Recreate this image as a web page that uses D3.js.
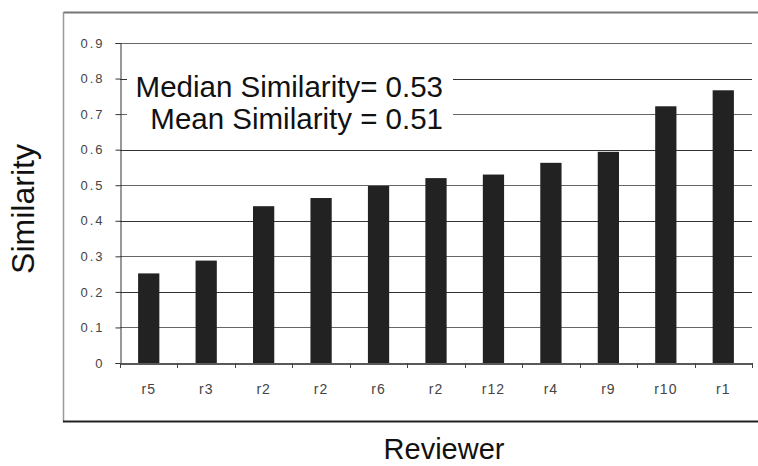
<!DOCTYPE html>
<html><head><meta charset="utf-8">
<script src="https://cdn.jsdelivr.net/npm/d3@7"></script>
<style>body{margin:0;background:#fff}svg{display:block}text{font-family:"Liberation Sans",Arial,sans-serif}</style>
</head><body>
<svg id="c" width="758" height="466"></svg>
<script>
const categories = ["r5","r3","r2","r2","r6","r2","r12","r4","r9","r10","r1"];
const similarity = [0.252,0.288,0.441,0.464,0.498,0.520,0.530,0.563,0.594,0.722,0.767];
const yTicks = [0,0.1,0.2,0.3,0.4,0.5,0.6,0.7,0.8,0.9];
const noteLines = ["Median Similarity= 0.53","Mean Similarity = 0.51"];

const svg = d3.select("#c");
const m = {l:120, r:752, t:43, b:363};
const x = d3.scaleBand().domain(d3.range(categories.length)).range([m.l,m.r]).paddingInner(0.63).paddingOuter(0.315);
const xb = d3.scaleBand().domain(d3.range(categories.length)).range([m.l,m.r]);
const y = d3.scaleLinear().domain([0,0.9]).range([m.b,m.t]);

// outer frame
svg.append("line").attr("x1",63.5).attr("x2",758).attr("y1",12.5).attr("y2",12.5).attr("stroke","#777").attr("stroke-width",2);
svg.append("line").attr("x1",63.5).attr("x2",63.5).attr("y1",12).attr("y2",422).attr("stroke","#999").attr("stroke-width",1.5);
svg.append("line").attr("x1",63).attr("x2",758).attr("y1",421.5).attr("y2",421.5).attr("stroke","#222").attr("stroke-width",2);

// gridlines
svg.append("g").selectAll("line").data(yTicks.filter(d=>d>0)).join("line")
  .attr("x1",m.l).attr("x2",m.r).attr("y1",d=>Math.round(y(d))+0.5).attr("y2",d=>Math.round(y(d))+0.5)
  .attr("stroke",(d,i)=> i%2? "#333":"#666").attr("stroke-width",1);

// y axis
const ya = svg.append("g").attr("transform",`translate(${m.l+0.5},0)`)
  .call(d3.axisLeft(y).tickValues(yTicks).tickSize(5).tickPadding(11).tickFormat(d=>d===0?"0":d3.format(".1f")(d)));
ya.select(".domain").attr("stroke","#333");
ya.selectAll(".tick line").attr("stroke","#333");
ya.selectAll(".tick text").attr("font-size",13).attr("fill","#444").attr("letter-spacing","2px")
  .attr("font-family","Liberation Sans, Arial, sans-serif");

// bars
svg.append("g").selectAll("rect").data(similarity).join("rect")
  .attr("x",(d,i)=>x(i)).attr("width",x.bandwidth())
  .attr("y",d=>y(d)).attr("height",d=>y(0)-y(d)).attr("fill","#222");

// x axis
const xa = svg.append("g").attr("transform",`translate(0,${m.b+0.5})`)
  .call(d3.axisBottom(xb).tickSize(0).tickPadding(21).tickFormat(i=>categories[i]));
xa.select(".domain").attr("stroke","#222").attr("stroke-width",1.5);
xa.selectAll(".tick text").attr("font-size",14).attr("fill","#444").attr("letter-spacing","1px")
  .attr("font-family","Liberation Sans, Arial, sans-serif");
svg.append("g").selectAll("line").data(d3.range(categories.length+1)).join("line")
  .attr("x1",i=>Math.round(m.l+i*xb.step())+0.5).attr("x2",i=>Math.round(m.l+i*xb.step())+0.5)
  .attr("y1",m.b).attr("y2",m.b+5).attr("stroke","#444");

// annotation box
svg.append("rect").attr("x",127).attr("y",68).attr("width",326).attr("height",72).attr("fill","#fff");
svg.append("g").selectAll("text").data(noteLines).join("text")
  .attr("x",443).attr("y",(d,i)=>97+i*31.5).attr("text-anchor","end")
  .attr("font-size",29.5).attr("fill","#111").text(d=>d);

// axis titles
svg.append("text").attr("transform","translate(34,209) rotate(-90)").attr("text-anchor","middle")
  .attr("font-size",32).attr("fill","#111").text("Similarity");
svg.append("text").attr("x",444).attr("y",459).attr("text-anchor","middle")
  .attr("font-size",29).attr("fill","#111").text("Reviewer");
</script>
</body></html>
